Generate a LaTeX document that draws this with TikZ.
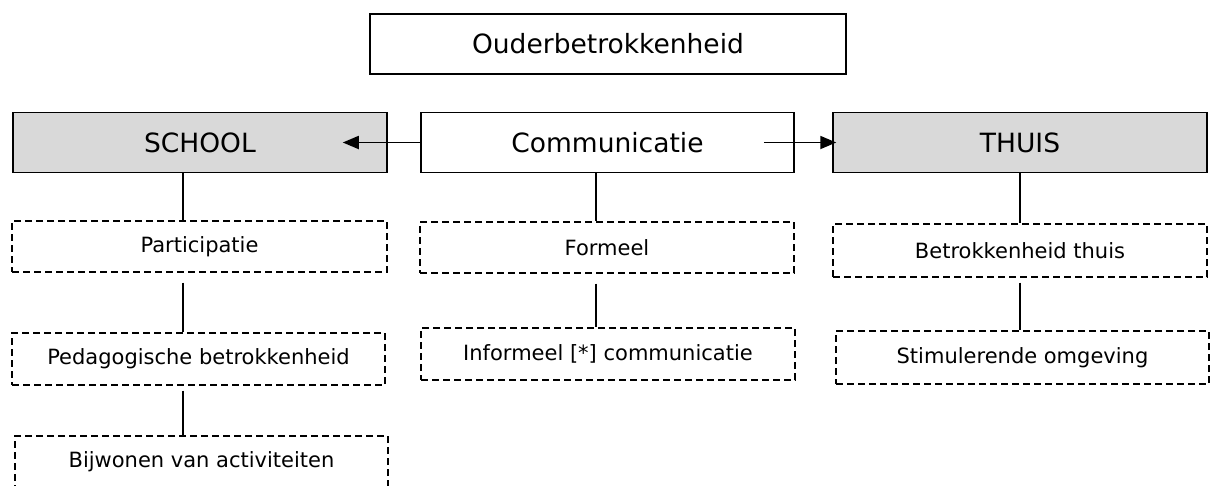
\documentclass[tikz,border=0pt]{standalone}
\usepackage{fontspec}
\setmainfont{DejaVu Sans}
\usetikzlibrary{arrows.meta}
\definecolor{boxgray}{HTML}{D9D9D9}
\begin{document}
\begin{tikzpicture}[x=1pt,y=-1pt,
  solidbox/.style={draw, line width=1.5pt, minimum width=#1, minimum height=60pt, inner sep=0pt, font=\fontsize{26.5}{30}\selectfont},
  graybox/.style={solidbox=#1, fill=boxgray},
  dashbox/.style={draw, line width=1.4pt, dash pattern=on 7pt off 4pt, minimum width=#1, inner sep=0pt, font=\fontsize{21}{25}\selectfont},
  conn/.style={line width=1.5pt},
  arr/.style={line width=1.8pt, -{Triangle[length=16pt,width=13pt]}}]
\useasboundingbox (0,0) rectangle (1213,485);
\clip (0,0) rectangle (1213,485);
\node[solidbox=476pt] (top) at (608,44) {Ouderbetrokkenheid};
\node[graybox=374pt] (school) at (200,142.5) {SCHOOL};
\node[solidbox=373pt] (comm) at (607.5,142.5) {Communicatie};
\node[graybox=374pt] (thuis) at (1020,142.5) {THUIS};
\node[dashbox=375pt, minimum height=51pt] (part) at (199.5,246.5) {Participatie};
\node[dashbox=373pt, minimum height=52pt] (peda) at (198.5,359) {Pedagogische betrokkenheid};
\node[dashbox=373pt, minimum height=52pt] (bijw) at (201.5,462) {Bijwonen van activiteiten};
\node[dashbox=374pt, minimum height=51pt] (form) at (607,247.5) {Formeel};
\node[dashbox=374pt, minimum height=52pt] (inf) at (608,354) {Informeel [*] communicatie};
\node[dashbox=374pt, minimum height=53pt] (bet) at (1020,250.5) {Betrokkenheid thuis};
\node[dashbox=373pt, minimum height=53pt] (stim) at (1022.5,357.5) {Stimulerende omgeving};
% connectors
\coordinate (s1) at ([xshift=-17pt]school.south);
\draw[conn] (s1) -- (s1 |- part.north);
\coordinate (s2) at ([xshift=-16.5pt]part.south);
\draw[conn, shorten <=10pt] (s2) -- (s2 |- peda.north);
\coordinate (s3) at ([xshift=-15.5pt]peda.south);
\draw[conn, shorten <=5pt] (s3) -- (s3 |- bijw.north);
\coordinate (c1) at ([xshift=-11.5pt]comm.south);
\draw[conn] (c1) -- (c1 |- form.north);
\coordinate (c2) at ([xshift=-11pt]form.south);
\draw[conn, shorten <=10pt] (c2) -- (c2 |- inf.north);
\draw[conn] (thuis.south) -- (bet.north);
\draw[conn, shorten <=5pt] (bet.south) -- (bet.south |- stim.north);
% arrows
\draw[arr] (comm.west) -- ([xshift=-45pt]school.east);
\draw[arr] ([xshift=-31pt]comm.east) -- ([xshift=4pt]thuis.west);
\end{tikzpicture}
\end{document}
